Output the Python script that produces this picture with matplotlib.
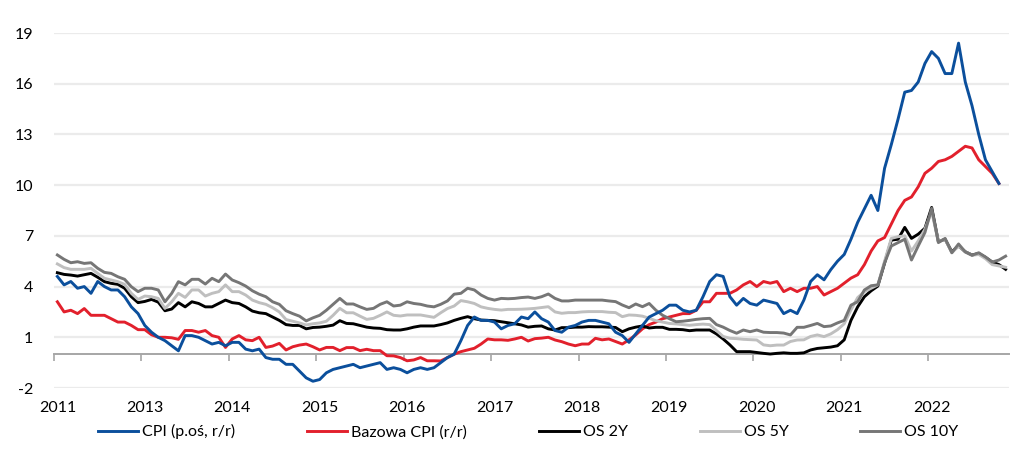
import numpy as np
import matplotlib
matplotlib.use("Agg")
import matplotlib.pyplot as plt

# ---- data (monthly, Dec 2011 .. Aug/Sep 2023) ----
cpi = [4.6,
       4.1, 4.3, 3.9, 4.0, 3.6, 4.3, 4.0, 3.8, 3.8, 3.4, 2.8, 2.4,
       1.7, 1.3, 1.0, 0.8, 0.5, 0.2, 1.1, 1.1, 1.0, 0.8, 0.6, 0.7,
       0.5, 0.7, 0.7, 0.3, 0.2, 0.3, -0.2, -0.3, -0.3, -0.6, -0.6, -1.0,
       -1.4, -1.6, -1.5, -1.1, -0.9, -0.8, -0.7, -0.6, -0.8, -0.7, -0.6, -0.5,
       -0.9, -0.8, -0.9, -1.1, -0.9, -0.8, -0.9, -0.8, -0.5, -0.2, 0.0, 0.8,
       1.7, 2.2, 2.0, 2.0, 1.9, 1.5, 1.7, 1.8, 2.2, 2.1, 2.5, 2.1,
       1.9, 1.4, 1.3, 1.6, 1.7, 1.9, 2.0, 2.0, 1.9, 1.8, 1.3, 1.1,
       0.7, 1.2, 1.7, 2.2, 2.4, 2.6, 2.9, 2.9, 2.6, 2.5, 2.6, 3.4,
       4.3, 4.7, 4.6, 3.4, 2.9, 3.3, 3.0, 2.9, 3.2, 3.1, 3.0, 2.4,
       2.6, 2.4, 3.2, 4.3, 4.7, 4.4, 5.0, 5.5, 5.9, 6.8, 7.8, 8.6,
       9.4, 8.5, 11.0, 12.4, 13.9, 15.5, 15.6, 16.1, 17.2, 17.9, 17.5, 16.6,
       16.6, 18.4, 16.1, 14.7, 13.0, 11.5, 10.8, 10.1]

core = [3.1,
        2.5, 2.6, 2.4, 2.7, 2.3, 2.3, 2.3, 2.1, 1.9, 1.9, 1.7, 1.45,
        1.45, 1.15, 1.0, 1.0, 0.97, 0.88, 1.4, 1.4, 1.3, 1.4, 1.1, 1.0,
        0.4, 0.9, 1.1, 0.85, 0.8, 1.0, 0.4, 0.48, 0.64, 0.25, 0.44, 0.54,
        0.6, 0.44, 0.25, 0.4, 0.4, 0.21, 0.39, 0.39, 0.21, 0.29, 0.21, 0.21,
        -0.09, -0.1, -0.2, -0.39, -0.34, -0.2, -0.39, -0.39, -0.4, -0.2, 0.0, 0.15,
        0.25, 0.35, 0.6, 0.9, 0.85, 0.85, 0.82, 0.9, 1.0, 0.78, 0.92, 0.95,
        1.0, 0.84, 0.74, 0.6, 0.5, 0.6, 0.6, 0.94, 0.85, 0.9, 0.75, 0.6,
        0.85, 1.14, 1.5, 1.75, 1.9, 2.1, 2.2, 2.3, 2.4, 2.4, 2.6, 3.1,
        3.1, 3.6, 3.6, 3.6, 3.8, 4.1, 4.3, 4.0, 4.3, 4.2, 4.3, 3.7,
        3.9, 3.7, 3.9, 3.9, 4.0, 3.5, 3.7, 3.9, 4.2, 4.5, 4.7, 5.3,
        6.1, 6.7, 6.9, 7.7, 8.5, 9.1, 9.3, 9.9, 10.7, 11.0, 11.4, 11.5,
        11.7, 12.0, 12.3, 12.2, 11.5, 11.1, 10.7, 10.1]

os2y = [4.82,
        4.72, 4.68, 4.62, 4.70, 4.78, 4.55, 4.29, 4.19, 4.13, 3.90, 3.40, 3.05,
        3.12, 3.24, 3.08, 2.57, 2.67, 3.05, 2.80, 3.10, 3.00, 2.80, 2.80, 3.00,
        3.20, 3.05, 3.00, 2.80, 2.55, 2.45, 2.40, 2.20, 2.00, 1.75, 1.70, 1.70,
        1.50, 1.58, 1.60, 1.65, 1.72, 1.98, 1.82, 1.80, 1.70, 1.60, 1.55, 1.53,
        1.45, 1.43, 1.43, 1.50, 1.60, 1.67, 1.67, 1.67, 1.75, 1.85, 2.00, 2.12,
        2.22, 2.10, 2.02, 2.00, 1.98, 1.92, 1.86, 1.80, 1.73, 1.60, 1.65, 1.67,
        1.50, 1.43, 1.57, 1.57, 1.60, 1.60, 1.63, 1.62, 1.62, 1.60, 1.58, 1.33,
        1.50, 1.60, 1.67, 1.55, 1.59, 1.59, 1.47, 1.47, 1.45, 1.39, 1.43, 1.43,
        1.43, 1.20, 0.90, 0.55, 0.15, 0.15, 0.15, 0.10, 0.05, 0.01, 0.05, 0.08,
        0.05, 0.05, 0.08, 0.25, 0.34, 0.38, 0.42, 0.50, 0.85, 2.00, 2.80, 3.40,
        3.75, 4.03, 5.40, 6.75, 6.80, 7.50, 6.85, 7.10, 7.45, 8.68, 6.66, 6.80,
        6.06, 6.40, 6.06, 5.87, 5.96, 5.73, 5.45, 5.30, 5.02]

os5y = [5.34,
        5.12, 5.02, 5.02, 5.02, 5.08, 4.78, 4.49, 4.39, 4.29, 4.13, 3.60, 3.24,
        3.44, 3.40, 3.30, 2.71, 3.10, 3.60, 3.36, 3.80, 3.80, 3.44, 3.60, 3.70,
        4.10, 3.70, 3.70, 3.50, 3.20, 3.05, 2.95, 2.75, 2.50, 2.05, 1.95, 1.85,
        1.73, 1.80, 1.85, 1.95, 2.30, 2.71, 2.45, 2.45, 2.25, 2.06, 2.12, 2.30,
        2.50, 2.30, 2.26, 2.32, 2.32, 2.32, 2.25, 2.18, 2.45, 2.70, 2.85, 3.17,
        3.10, 3.00, 2.80, 2.71, 2.65, 2.61, 2.65, 2.65, 2.66, 2.68, 2.71, 2.76,
        2.81, 2.50, 2.42, 2.46, 2.46, 2.50, 2.52, 2.52, 2.52, 2.48, 2.46, 2.22,
        2.32, 2.30, 2.25, 2.12, 1.98, 1.90, 1.82, 1.79, 1.75, 1.71, 1.75, 1.78,
        1.75, 1.40, 1.05, 0.94, 0.92, 0.88, 0.86, 0.84, 0.55, 0.50, 0.54, 0.54,
        0.75, 0.84, 0.85, 1.05, 1.14, 1.04, 1.20, 1.45, 1.80, 2.62, 3.35, 3.70,
        3.90, 4.10, 5.50, 6.85, 6.95, 7.00, 6.10, 6.70, 7.40, 8.43, 6.66, 6.80,
        6.00, 6.40, 6.05, 5.85, 5.90, 5.65, 5.30, 5.22, 5.14]

os10y = [5.87,
         5.61, 5.41, 5.47, 5.37, 5.41, 5.08, 4.84, 4.78, 4.58, 4.43, 3.99, 3.70,
         3.90, 3.90, 3.80, 3.10, 3.60, 4.29, 4.10, 4.43, 4.43, 4.15, 4.49, 4.29,
         4.74, 4.39, 4.23, 4.03, 3.75, 3.55, 3.40, 3.10, 2.95, 2.57, 2.40, 2.25,
         1.97, 2.15, 2.30, 2.60, 2.95, 3.30, 2.97, 2.97, 2.80, 2.65, 2.71, 2.95,
         3.10, 2.85, 2.90, 3.10, 3.00, 2.95, 2.85, 2.80, 2.95, 3.15, 3.55, 3.60,
         3.90, 3.80, 3.50, 3.30, 3.20, 3.30, 3.28, 3.30, 3.35, 3.38, 3.30, 3.40,
         3.56, 3.30, 3.15, 3.15, 3.20, 3.20, 3.20, 3.20, 3.20, 3.15, 3.11, 2.91,
         2.75, 2.97, 2.81, 3.00, 2.60, 2.30, 2.10, 1.92, 1.95, 2.00, 2.06, 2.10,
         2.12, 1.75, 1.60, 1.40, 1.24, 1.43, 1.33, 1.43, 1.30, 1.28, 1.28, 1.25,
         1.14, 1.59, 1.59, 1.70, 1.82, 1.63, 1.67, 1.85, 2.00, 2.90, 3.10, 3.80,
         4.05, 4.10, 5.40, 6.40, 6.60, 6.80, 5.57, 6.40, 7.20, 8.63, 6.60, 6.85,
         6.00, 6.52, 6.05, 5.85, 6.00, 5.75, 5.45, 5.57, 5.80]

tick_labels = ["2011", "2013", "2014", "2015", "2016", "2017",
               "2018", "2019", "2020", "2021", "2022"]
y_ticks = [-2, 1, 4, 7, 10, 13, 16, 19]

series_labels = ["CPI (p.oś, r/r)", "Bazowa CPI (r/r)", "OS 2Y", "OS 5Y", "OS 10Y"]
colors = ["#0b4f9c", "#e2202c", "#000000", "#bfbfbf", "#767676"]

plt.rcParams['font.family'] = ['Lato', 'DejaVu Sans']
FS = 11.5

fig = plt.figure(figsize=(10.29, 4.69), dpi=100)
ax = fig.add_axes([54/1029, 1 - 388/469, (1009-54)/1029, (388-33)/469])

lw = 2.1
h_core, = ax.plot(np.arange(len(core)), core, color=colors[1], lw=lw, zorder=3)
h_2y, = ax.plot(np.arange(len(os2y)), os2y, color=colors[2], lw=lw, zorder=4)
h_5y, = ax.plot(np.arange(len(os5y)), os5y, color=colors[3], lw=lw, zorder=5)
h_10y, = ax.plot(np.arange(len(os10y)), os10y, color=colors[4], lw=lw, zorder=6)
h_cpi, = ax.plot(np.arange(len(cpi)), cpi, color=colors[0], lw=lw, zorder=7)

n = len(os10y)
ax.set_xlim(-0.5, n - 0.5)
ax.set_ylim(-2, 19)

ax.set_yticks(y_ticks)
ax.set_yticklabels([str(t) for t in y_ticks], fontsize=FS)
ax.tick_params(axis='y', length=0, pad=15)
ax.grid(axis='y', color='#ebebeb', lw=1.6, zorder=0)
ax.set_axisbelow(True)

for s in ax.spines.values():
    s.set_visible(False)

lab_pos = [13 * k for k in range(len(tick_labels))]
ax.set_xticks(lab_pos)
ax.set_xticklabels(tick_labels, fontsize=FS)
ax.tick_params(axis='x', length=0, pad=9)

# zero axis line with tick marks between categories
sec = ax.secondary_xaxis(2 / 21)
sec.set_xticks([p - 0.5 for p in lab_pos])
sec.set_xticklabels([])
sec.tick_params(axis='x', length=5, width=1.2, color='#a6a6a6', direction='out')
sec.spines['bottom'].set_color('#a6a6a6')
sec.spines['bottom'].set_linewidth(1.4)
for k in ['top', 'left', 'right']:
    sec.spines[k].set_visible(False)

handles = [h_cpi, h_core, h_2y, h_5y, h_10y]
fig.legend(handles, series_labels, loc='center', bbox_to_anchor=(0.5136, 0.079),
           ncol=5, frameon=False, fontsize=FS, handlelength=2.5,
           handletextpad=0.25, columnspacing=4.5)

fig.savefig("out.png", dpi=100)
